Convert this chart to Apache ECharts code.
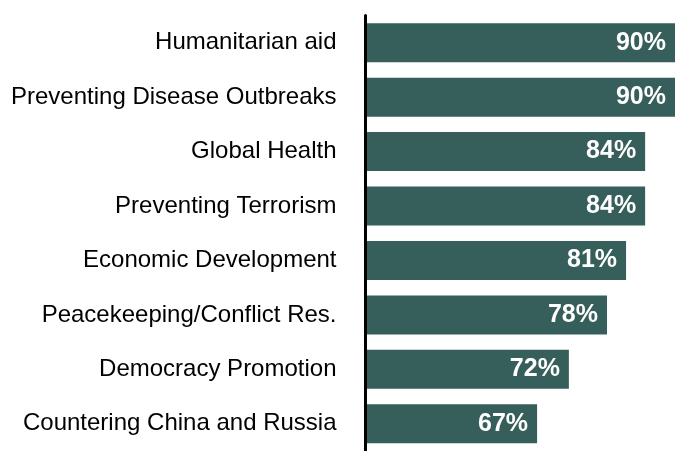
<!DOCTYPE html>
<html>
<head>
<meta charset="utf-8">
<script src="https://cdn.jsdelivr.net/npm/echarts@6/dist/echarts.min.js"></script>
<style>
  html, body { margin: 0; padding: 0; background: #ffffff; }
  #chart { width: 675px; height: 451px; }
</style>
</head>
<body>
<div id="chart"></div>
<script>
// Share of respondents supporting each foreign-assistance priority (%)
const categories = [
  'Humanitarian aid',
  'Preventing Disease Outbreaks',
  'Global Health',
  'Preventing Terrorism',
  'Economic Development',
  'Peacekeeping/Conflict Res.',
  'Democracy Promotion',
  'Countering China and Russia'
];
const support = [90, 90, 84, 84, 81, 78, 72, 67];

const FONT = '"Liberation Sans", Arial, Helvetica, sans-serif';
const BAR_COLOR = '#365E5A';

const chart = echarts.init(document.getElementById('chart'), null, { renderer: 'canvas' });

chart.setOption({
  animation: false,
  backgroundColor: '#ffffff',
  grid: {
    left: 365.5,
    top: 15.5,
    right: 0,
    height: 440,
    containLabel: false
  },
  // The value range runs slightly short of the longest bars, so they run off the right edge
  xAxis: {
    type: 'value',
    min: 40,
    max: 88.7,
    show: false
  },
  yAxis: {
    type: 'category',
    data: categories,
    inverse: true,
    z: 5,
    axisLine: { show: true, lineStyle: { color: '#000000', width: 3 } },
    axisTick: { show: false },
    splitLine: { show: false },
    axisLabel: {
      margin: 29,
      color: '#000000',
      fontFamily: FONT,
      fontSize: 24
    }
  },
  series: [{
    type: 'bar',
    data: support,
    barWidth: 39,
    clip: true,
    itemStyle: { color: BAR_COLOR },
    label: {
      show: true,
      position: 'insideRight',
      distance: 9,
      color: '#ffffff',
      fontFamily: FONT,
      fontWeight: 'bold',
      fontSize: 25,
      formatter: p => p.value + '%'
    }
  }]
});
</script>
</body>
</html>
